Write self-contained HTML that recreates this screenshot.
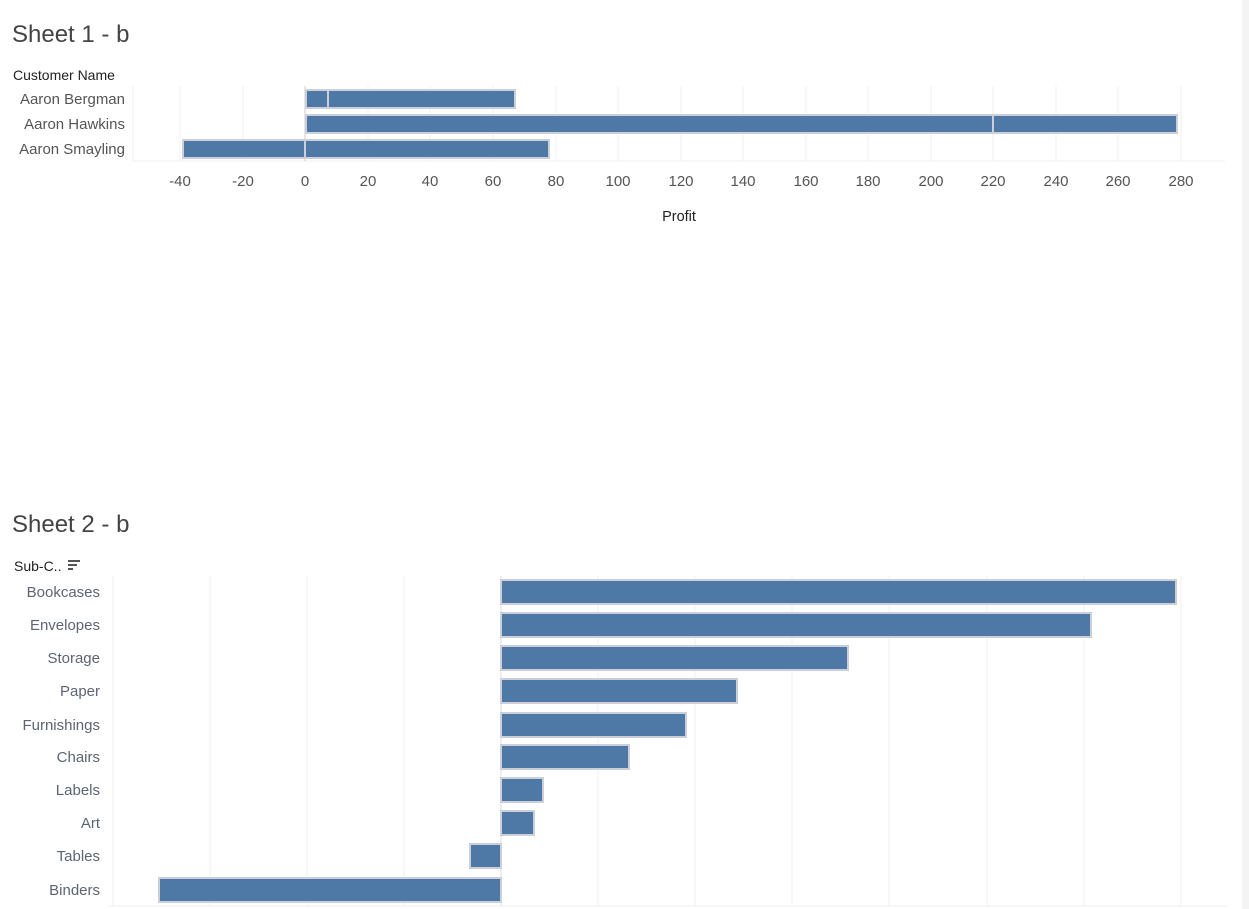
<!DOCTYPE html>
<html><head><meta charset="utf-8"><style>
html,body{margin:0;padding:0;background:#fff;width:1249px;height:909px;overflow:hidden;font-family:"Liberation Sans",sans-serif}
</style></head><body>
<svg width="1249" height="909" xmlns="http://www.w3.org/2000/svg" font-family="Liberation Sans, sans-serif">
<rect x="1242" y="0" width="7" height="909" fill="#f4f4f4"/>
<text x="12" y="42" font-size="24" fill="#444">Sheet 1 - b</text>
<text x="13" y="80" font-size="14" fill="#222">Customer Name</text>
<g stroke="#efefef" stroke-width="1">
<line x1="180" y1="86" x2="180" y2="161"/><line x1="243" y1="86" x2="243" y2="161"/>
<line x1="368" y1="86" x2="368" y2="161"/><line x1="430" y1="86" x2="430" y2="161"/>
<line x1="493" y1="86" x2="493" y2="161"/><line x1="556" y1="86" x2="556" y2="161"/>
<line x1="618" y1="86" x2="618" y2="161"/><line x1="681" y1="86" x2="681" y2="161"/>
<line x1="743" y1="86" x2="743" y2="161"/><line x1="806" y1="86" x2="806" y2="161"/>
<line x1="868" y1="86" x2="868" y2="161"/><line x1="931" y1="86" x2="931" y2="161"/>
<line x1="993" y1="86" x2="993" y2="161"/><line x1="1056" y1="86" x2="1056" y2="161"/>
<line x1="1118" y1="86" x2="1118" y2="161"/><line x1="1181" y1="86" x2="1181" y2="161"/>
<line x1="133" y1="86" x2="133" y2="161"/><line x1="133" y1="161" x2="1225" y2="161"/>
</g>
<line x1="305" y1="86" x2="305" y2="161" stroke="#ccc"/>
<g fill="#4e79a7" stroke="#ccd0d6" stroke-width="2">
<rect x="306" y="90" width="22" height="18"/><rect x="328" y="90" width="187" height="18"/>
<rect x="306" y="115" width="687" height="18"/><rect x="993" y="115" width="184" height="18"/>
<rect x="183" y="140" width="122" height="18"/><rect x="305" y="140" width="244" height="18"/>
</g>
<g font-size="15" fill="#555" text-anchor="end">
<text x="125" y="104">Aaron Bergman</text><text x="125" y="129">Aaron Hawkins</text><text x="125" y="154">Aaron Smayling</text>
</g>
<g font-size="15" fill="#555" text-anchor="middle">
<text x="180" y="186">-40</text><text x="243" y="186">-20</text><text x="305" y="186">0</text>
<text x="368" y="186">20</text><text x="430" y="186">40</text><text x="493" y="186">60</text>
<text x="556" y="186">80</text><text x="618" y="186">100</text><text x="681" y="186">120</text>
<text x="743" y="186">140</text><text x="806" y="186">160</text><text x="868" y="186">180</text>
<text x="931" y="186">200</text><text x="993" y="186">220</text><text x="1056" y="186">240</text>
<text x="1118" y="186">260</text><text x="1181" y="186">280</text>
</g>
<text x="679" y="221" font-size="14.5" fill="#222" text-anchor="middle">Profit</text>

<text x="12" y="532" font-size="24" fill="#444">Sheet 2 - b</text>
<text x="14" y="571" font-size="14" fill="#222">Sub-C..</text>
<g fill="#555"><rect x="68" y="560" width="12" height="2"/><rect x="68" y="564" width="9" height="2"/><rect x="68" y="568" width="5" height="2"/></g>
<g stroke="#efefef" stroke-width="1">
<line x1="113" y1="576" x2="113" y2="906"/>
<line x1="210" y1="576" x2="210" y2="906"/><line x1="307" y1="576" x2="307" y2="906"/>
<line x1="404" y1="576" x2="404" y2="906"/><line x1="598" y1="576" x2="598" y2="906"/>
<line x1="695" y1="576" x2="695" y2="906"/><line x1="792" y1="576" x2="792" y2="906"/>
<line x1="889" y1="576" x2="889" y2="906"/><line x1="987" y1="576" x2="987" y2="906"/>
<line x1="1084" y1="576" x2="1084" y2="906"/><line x1="1181" y1="576" x2="1181" y2="906"/>
<line x1="108" y1="906" x2="1227" y2="906"/>
</g>
<line x1="501" y1="576" x2="501" y2="906" stroke="#ddd"/>
<g fill="#4e79a7" stroke="#ccd0d6" stroke-width="2">
<rect x="501" y="580" width="675" height="24"/>
<rect x="501" y="613" width="590" height="24"/>
<rect x="501" y="646" width="347" height="24"/>
<rect x="501" y="679" width="236" height="24"/>
<rect x="501" y="713" width="185" height="24"/>
<rect x="501" y="745" width="128" height="24"/>
<rect x="501" y="778" width="42" height="24"/>
<rect x="501" y="811" width="33" height="24"/>
<rect x="470" y="844" width="31" height="24"/>
<rect x="159" y="878" width="342" height="24"/>
</g>
<g font-size="15" fill="#5b6573" text-anchor="end">
<text x="100" y="597">Bookcases</text><text x="100" y="630">Envelopes</text><text x="100" y="663">Storage</text>
<text x="100" y="696">Paper</text><text x="100" y="730">Furnishings</text><text x="100" y="762">Chairs</text>
<text x="100" y="795">Labels</text><text x="100" y="828">Art</text><text x="100" y="861">Tables</text>
<text x="100" y="895">Binders</text>
</g>
</svg>
</body></html>
